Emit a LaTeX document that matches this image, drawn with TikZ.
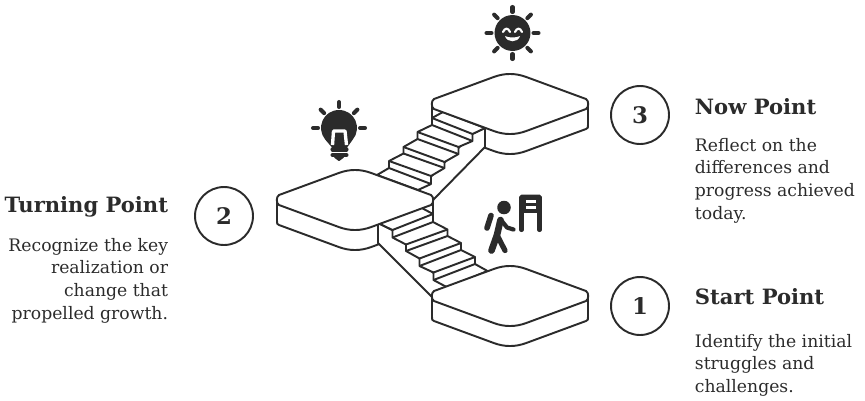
\documentclass[tikz,border=0pt]{standalone}
\usepackage{fontspec}
\setmainfont{DejaVu Serif}
\usetikzlibrary{positioning}
\definecolor{cink}{HTML}{2B2B2B}
\tikzset{
  every picture/.style={line width=1.1pt, line join=round},
  line/.style={draw=cink, fill=white},
  solid/.style={draw=cink, fill=cink},
  ray/.style={draw=cink, line width=2.3pt, line cap=round},
  white/.style={draw=white, line width=1.2pt, line cap=round},
  badge/.style={circle, draw=cink, minimum size=33pt, inner sep=0pt, text=cink, font=\fontsize{13}{15}\selectfont\bfseries},
  title/.style={text=cink, inner sep=0pt, font=\fontsize{12}{15}\selectfont\bfseries},
  note/.style={text=cink, inner sep=0pt, font=\fontsize{9.8}{13}\selectfont},
  slabside/.pic={
    \path[line] (-78,0) -- (-78,21) .. controls (-78,24) .. (-76,25) -- (-16,47.1)
      .. controls (-5.3,51) and (5.3,51) .. (16,47.1) -- (76,25) .. controls (78,24) .. (78,21) -- (78,0);
  },
  slabtop/.pic={
    \path[line] (-76,-5) -- (-16,-27.1) .. controls (-5.3,-31) and (5.3,-31) .. (16,-27.1) -- (76,-5)
      .. controls (79,-3) and (79,3) .. (76,5) -- (16,27.1) .. controls (5.3,31) and (-5.3,31) .. (-16,27.1)
      -- (-76,5) .. controls (-79,3) and (-79,-3) .. cycle;
  },
}
\begin{document}
\begin{tikzpicture}[x=0.02cm, y=-0.02cm]
  \useasboundingbox (0,0) rectangle (865,400);
  % slabs, sides first
  \pic at (510,296) {slabside};
  \pic at (355,200) {slabside};
  \pic at (510,104) {slabside};
  % upper flight
  \path[line] (485,128) -- (485,147) -- (433,200) -- (418,190) -- (472,134) -- cycle;
  \path[line] (443,112) -- (432,118) -- (432,125) -- (417.5,132) -- (417.5,139) -- (403.5,147) -- (403.5,153.5)
    -- (389,161) -- (389,168) -- (377,175) -- (418,190) -- (431,184) -- (431,176) -- (444.5,168) -- (444.5,162)
    -- (458.5,154) -- (458.5,147) -- (472.5,141) -- (472.5,134) -- (485,128) -- cycle;
  \draw[cink] (432,118) -- (472.5,134);
  \draw[cink] (432,125) -- (472.5,141);
  \draw[cink] (417.5,132) -- (458.5,147);
  \draw[cink] (417.5,139) -- (458.5,154);
  \draw[cink] (403.5,147) -- (444.5,162);
  \draw[cink] (403.5,153.5) -- (444.5,168);
  \draw[cink] (389,161) -- (431,176);
  \draw[cink] (389,168) -- (431,184);
  % lower flight
  \path[line] (378,223) -- (378,243) -- (432,297) -- (447,287) -- (392,230) -- cycle;
  \path[line] (378,223) -- (420,207) -- (433,214) -- (433,222) -- (447.5,229.5) -- (447.5,236) -- (461,243) -- (461,250)
    -- (475,257) -- (475,264) -- (487.5,271) -- (447.5,287.5) -- (433.5,280) -- (433.5,272.5) -- (419.5,266)
    -- (419.5,258.5) -- (406,251) -- (406,244.5) -- (392.5,237.5) -- (392.5,230) -- cycle;
  \draw[cink] (392.5,230) -- (433,214);
  \draw[cink] (392.5,237.5) -- (433,222);
  \draw[cink] (406,244.5) -- (447.5,229.5);
  \draw[cink] (406,251) -- (447.5,236);
  \draw[cink] (419.5,258.5) -- (461,243);
  \draw[cink] (419.5,266) -- (461,250);
  \draw[cink] (433.5,272.5) -- (475,257);
  \draw[cink] (433.5,280) -- (475,264);
  % slab tops
  \pic at (510,296) {slabtop};
  \pic at (355,200) {slabtop};
  \pic at (510,104) {slabtop};
  % sun
  \path[solid] (512.5,33) circle (17);
  \foreach \a in {0,45,...,315}
    \draw[ray] ([shift={(\a:21)}]512.5,33) -- ([shift={(\a:26)}]512.5,33);
  \draw[white] (503,32) .. controls (505,27.5) and (508,27.5) .. (510,32);
  \draw[white] (515,32) .. controls (517,27.5) and (520,27.5) .. (522,32);
  \path[fill=white] (505,36) .. controls (508,38) and (517,38) .. (520,36) .. controls (518,43) and (507,43) .. (505,36) -- cycle;
  % bulb
  \path[solid] (332,146) -- (326,139) .. controls (317,128) and (324,111) .. (339,111)
    .. controls (354,111) and (361,128) .. (352,139) -- (347,146) -- cycle;
  \foreach \a in {0,-45,-90,-135,180}
    \draw[ray] ([shift={(\a:21)}]339,128) -- ([shift={(\a:26)}]339,128);
  \draw[white, line width=1.9pt, line cap=butt] (332.5,145) -- (333.5,131) -- (345,131) -- (346.5,145);
  \draw[ray] (332.5,149.5) -- (346.5,149.5);
  \draw[ray] (332.5,155) -- (346.5,155);
  \path[solid] (335,157) -- (343,157) -- (339,160) -- cycle;
  % hiker
  \path[solid] (504,207.5) circle (5.8);
  \draw[ray, line width=3.2pt] (491,215.5) -- (487,228);
  \draw[ray, line width=3.8pt] (500.5,220) -- (497,235) -- (491.5,250.5);
  \draw[ray, line width=3pt] (497,235) -- (505,250.5);
  \draw[ray, line width=2.4pt] (501,220) -- (507,227.5) -- (513.5,229.5);
  % sign
  \path[solid, rounded corners=1pt] (520,195.5) rectangle (541,212);
  \draw[ray] (521.5,205) -- (521.5,230);
  \draw[ray] (539.5,205) -- (539.5,230);
  \path[fill=white] (526,199.5) rectangle (535.5,203);
  \path[fill=white] (526,205.5) rectangle (535.5,208.5);
  % labels
  \node[badge] (n3) at (640,115) {3};
  \node[badge] (n2) at (224,216) {2};
  \node[badge] (n1) at (640,306) {1};
  \node[title, anchor=base west] (t3) at (694,114) {Now Point};
  \node[note, anchor=north west, align=left] (d3) at (694,137) {Reflect on the\\differences and\\progress achieved\\today.};
  \node[title, anchor=base east] (t2) at (169,212) {Turning Point};
  \node[note, anchor=north east, align=right] (d2) at (169,237) {Recognize the key\\realization or\\change that\\propelled growth.};
  \node[title, anchor=base west] (t1) at (694,304) {Start Point};
  \node[note, anchor=north west, align=left] (d1) at (694,333) {Identify the initial\\struggles and\\challenges.};
\end{tikzpicture}
\end{document}
